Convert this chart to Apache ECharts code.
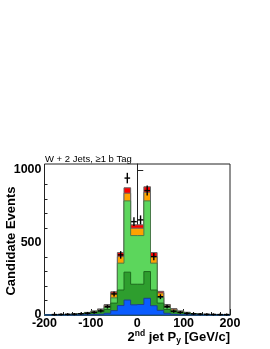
<!DOCTYPE html>
<html><head><meta charset="utf-8">
<script src="https://cdn.jsdelivr.net/npm/echarts@6/dist/echarts.min.js"></script>
<style>html,body{margin:0;padding:0;background:#fff}#c{width:270px;height:349px}</style>
</head><body><div id="c"></div>
<script>
// Histogram definition: 28 bins from -200 to 200
const X_MIN = -200, X_MAX = 200, N_BINS = 28;
const xTicks = [-200, -100, 0, 100, 200];
const yMajorTicks = [0, 500, 1000];
const yMinorTicks = [100, 200, 300, 400, 600, 700, 800, 900];

// Per-bin contributions of each stacked component (bottom to top)
const blue       = [0.3,0.4,0.5,0.6,0.8,1,2,3,5,12,30,65,103,70,72,115,64,32,12,5,3,2,1,0.8,0.6,0.5,0.4,0.3];
const darkGreen  = [0.3,0.8,1.3,1.9,2.7,5,8,12,17,26,52,107,192,142,140,184,108,50,26,17,12,8,5,2.7,1.9,1.3,0.8,0.3];
const lightGreen = [0.2,0.4,0.7,0.8,1.5,2,4,6,8,14,36,185,491,335,335,487,185,38,14,8,6,4,2,1.5,0.8,0.7,0.4,0.2];
const orange     = [0.1,0.2,0.3,0.5,0.6,1.4,2.5,5,8,14,32,45,53,51,51,59,45,32,14,10,5,3,1.4,0.6,0.5,0.3,0.2,0.1];
const red        = [0.1,0.2,0.2,0.2,0.4,0.6,1.5,2,4,6,10,28,37,23,23,38,28,11,6,4,2,2,0.6,0.4,0.2,0.2,0.2,0.1];
// Observed data
const dataCounts = [0,3,4,5,6,9,12,18,28,57,145,414,943,643,655,857,402,126,57,26,18,11,8,6,5,4,3,3];

const binW = (X_MAX - X_MIN) / N_BINS;
const layers = [
  {vals: blue, color: '#0a5cff', stroke: '#1d3f8f'},
  {vals: darkGreen, color: '#2e9e2e', stroke: '#1d6a1d'},
  {vals: lightGreen, color: '#5cd65c', stroke: '#4a7a4a'},
  {vals: orange, color: '#ffa200', stroke: '#666'},
  {vals: red, color: '#ff0000', stroke: '#666'}
];
// cumulative tops
const cum = [];
let run = new Array(N_BINS).fill(0);
layers.forEach(l => { run = run.map((v, i) => v + l.vals[i]); cum.push(run.slice()); });

const FONT = 'Liberation Sans, Arial, Helvetica, sans-serif';

function layerSeries(k) {
  const tops = cum[k];
  return {
    type: 'custom', silent: true, z: 2 + (layers.length - k) * 0.01,
    data: [[0, 0]],
    renderItem: function (params, api) {
      const pts = [];
      pts.push(api.coord([X_MIN, 0]));
      for (let i = 0; i < N_BINS; i++) {
        const lo = X_MIN + i * binW, hi = lo + binW;
        pts.push(api.coord([lo, tops[i]]));
        pts.push(api.coord([hi, tops[i]]));
      }
      pts.push(api.coord([X_MAX, 0]));
      return {type: 'polygon', shape: {points: pts},
        style: {fill: layers[k].color, stroke: layers[k].stroke, lineWidth: 1}};
    }
  };
}
const series = [];
for (let k = layers.length - 1; k >= 0; k--) series.push(layerSeries(k));

const errData = [];
dataCounts.forEach((n, i) => { if (n > 0) errData.push([X_MIN + (i + 0.5) * binW, n]); });
series.push({
  type: 'custom', silent: true, z: 5, data: errData,
  renderItem: function (params, api) {
    const x = api.value(0), n = api.value(1), e = Math.sqrt(n);
    const c = api.coord([x, n]);
    const top = api.coord([x, n + e]), bot = api.coord([x, Math.max(0, n - e)]);
    const l = api.coord([x - binW / 2, n]), r = api.coord([x + binW / 2, n]);
    const st = {stroke: '#000', lineWidth: 1.4};
    return {type: 'group', children: [
      {type: 'line', shape: {x1: top[0], y1: top[1] - 0.8, x2: bot[0], y2: bot[1] + 0.8}, style: st},
      {type: 'line', shape: {x1: l[0] + 0.5, y1: c[1], x2: r[0] - 0.5, y2: c[1]}, style: st}
    ]};
  }
});

const chart = echarts.init(document.getElementById('c'), null, {renderer: 'canvas'});
chart.setOption({
  animation: false,
  grid: {left: 44.5, top: 164, width: 185.5, height: 151, show: true, borderColor: '#222', borderWidth: 1, backgroundColor: 'transparent'},
  xAxis: {
    type: 'value', min: X_MIN, max: X_MAX, interval: 100,
    axisLine: {show: true, lineStyle: {color: '#222', width: 1}},
    axisTick: {show: true, inside: true, length: 6, lineStyle: {color: '#222'}},
    minorTick: {show: true, splitNumber: 5, length: 3, lineStyle: {color: '#222'}},
    splitLine: {show: false},
    axisLabel: {color: '#000', fontSize: 12.5, fontWeight: 'bold', fontFamily: FONT, margin: 2,
      customValues: xTicks, formatter: v => String(v)}
  },
  yAxis: [{
    type: 'value', min: 0, max: 1040,
    axisLine: {show: true, lineStyle: {color: '#222', width: 1}},
    axisTick: {show: true, inside: true, length: 6, lineStyle: {color: '#222'}, customValues: yMajorTicks},
    splitLine: {show: false},
    axisLabel: {color: '#000', fontSize: 12.5, fontWeight: 'bold', fontFamily: FONT, margin: 3,
      customValues: yMajorTicks, formatter: v => String(v)}
  }, {
    type: 'value', min: 0, max: 1040, position: 'left',
    axisLine: {show: false},
    axisTick: {show: true, inside: true, length: 3, lineStyle: {color: '#222'}, customValues: yMinorTicks},
    splitLine: {show: false},
    axisLabel: {show: false}
  }],
  series: series,
  graphic: [
    {type: 'text', x: 45, y: 159, style: {text: 'W + 2 Jets, \u22651 b Tag', fontSize: 9.5, fontFamily: FONT, fill: '#000', textAlign: 'left', textVerticalAlign: 'middle'}},
    {type: 'text', x: 11, y: 241, rotation: Math.PI / 2, style: {text: 'Candidate Events', fontSize: 13, fontWeight: 'bold', fontFamily: FONT, fill: '#000', textAlign: 'center', textVerticalAlign: 'middle'}},
    {type: 'text', x: 230, y: 337, style: {
      text: '{a|2}{sup|nd}{a| jet P}{sub|y}{a| [GeV/c]}',
      textAlign: 'right', textVerticalAlign: 'middle', fill: '#000',
      rich: {
        a: {fontSize: 13, fontWeight: 'bold', fontFamily: FONT, lineHeight: 16, verticalAlign: 'middle', fill: '#000'},
        sup: {fontSize: 8.5, fontWeight: 'bold', fontFamily: FONT, lineHeight: 9, verticalAlign: 'top', fill: '#000'},
        sub: {fontSize: 8.5, fontWeight: 'bold', fontFamily: FONT, lineHeight: 9, verticalAlign: 'bottom', fill: '#000'}
      }}}
  ]
});
</script></body></html>
